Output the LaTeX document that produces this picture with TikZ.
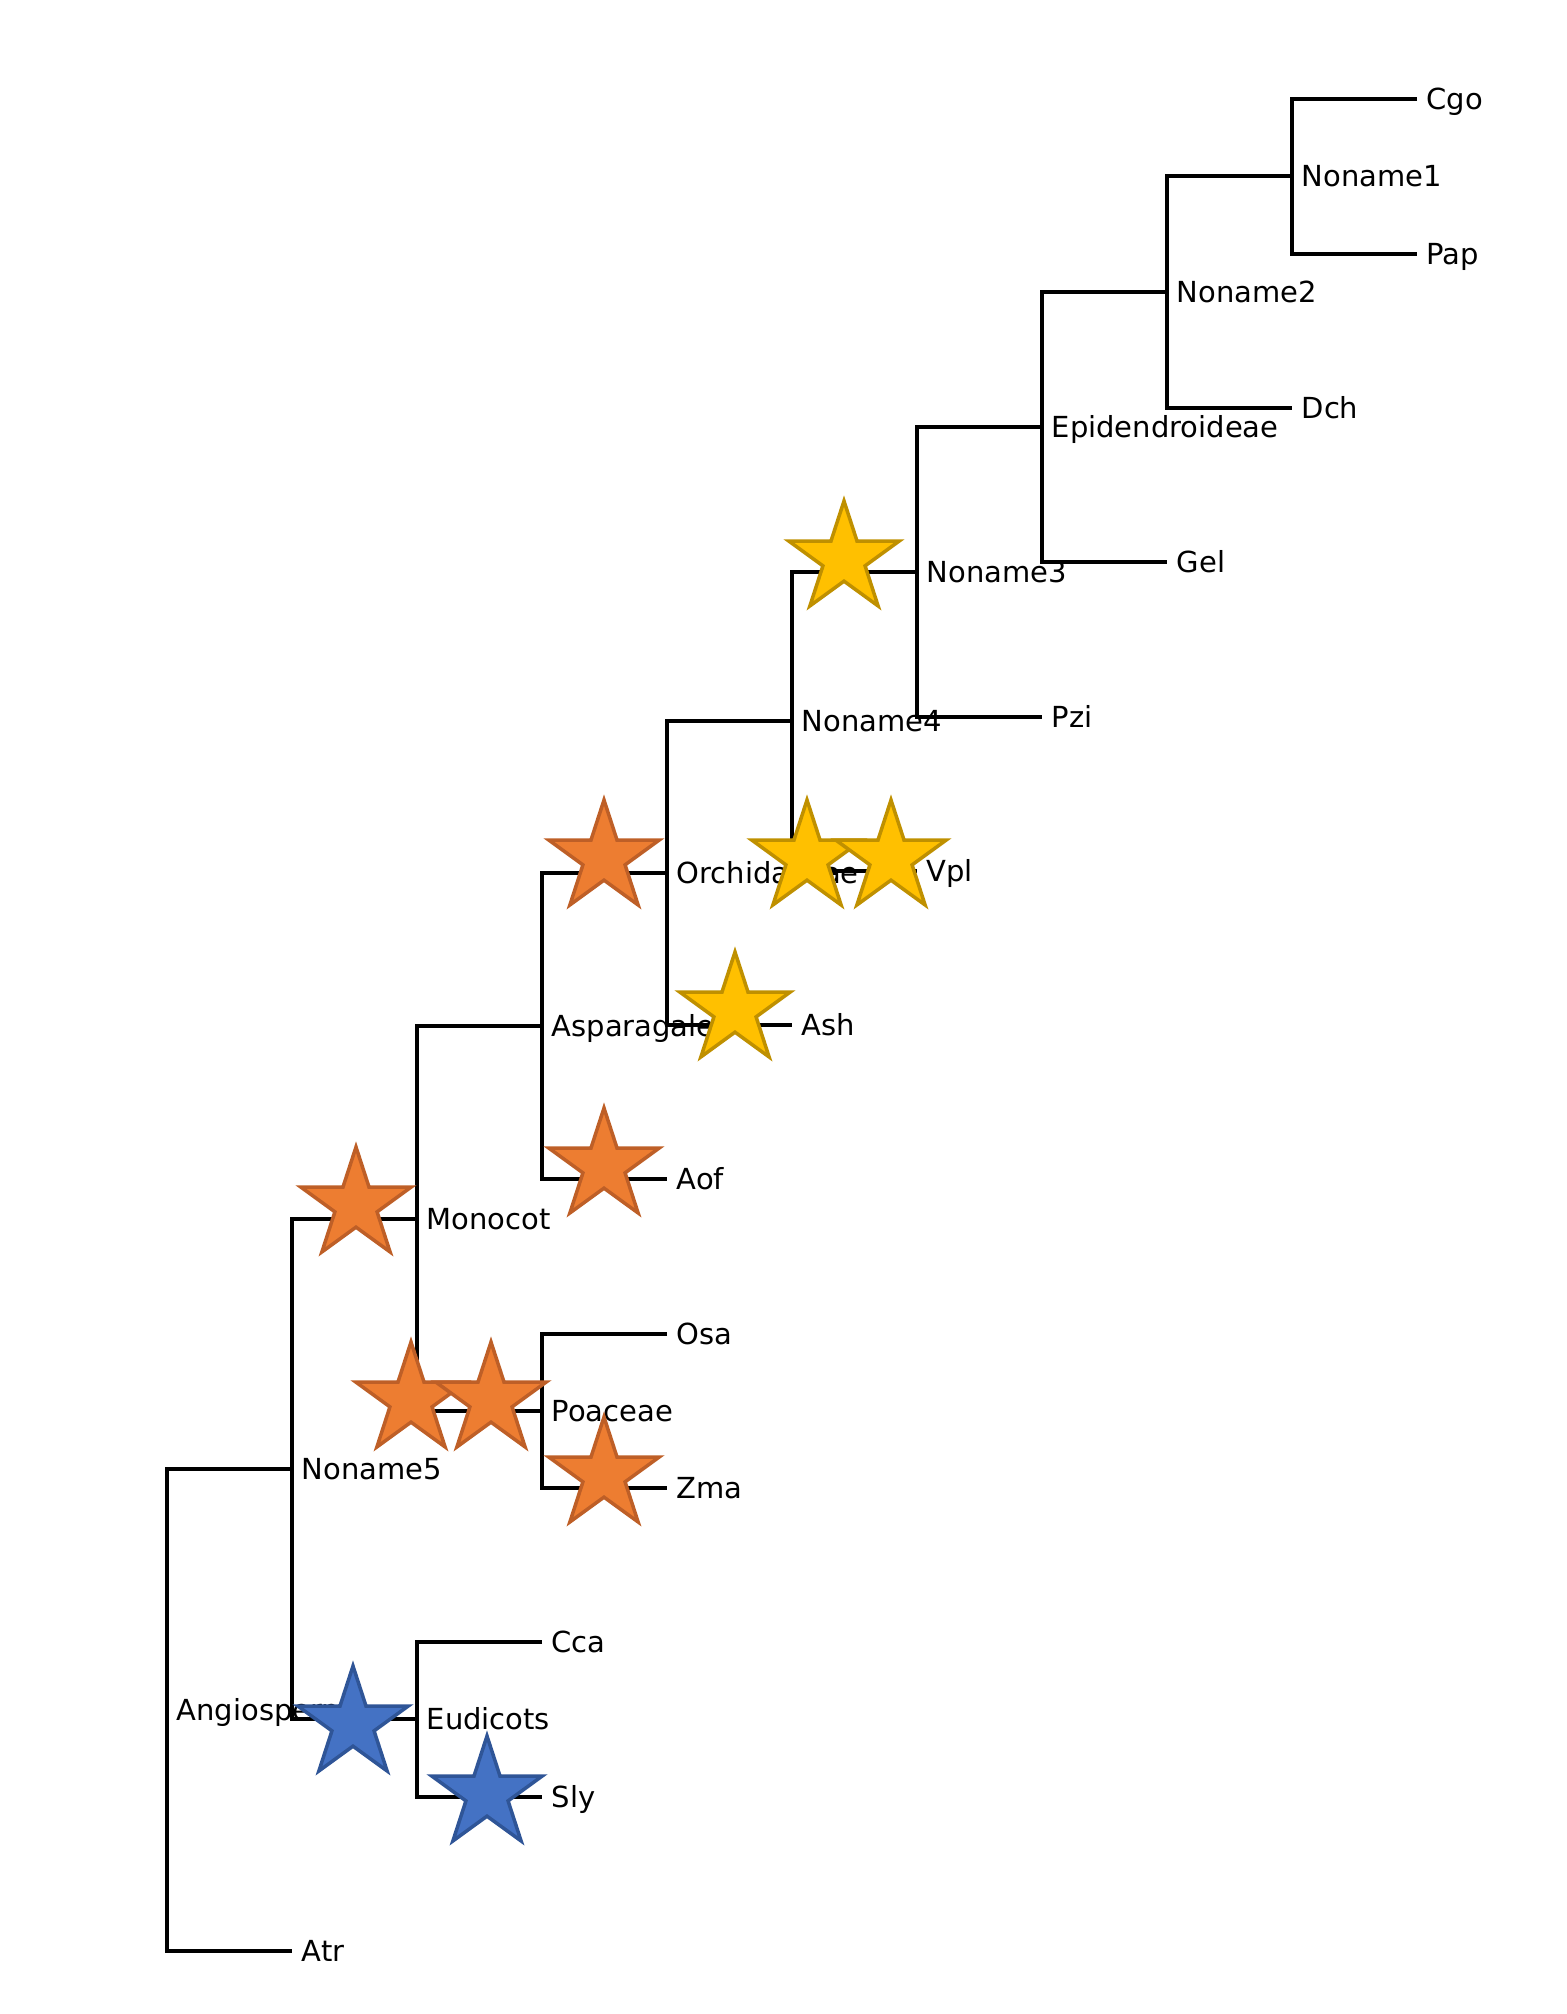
\documentclass[tikz,border=0pt]{standalone}
\usepackage{fontspec}
\setmainfont{DejaVu Sans}
\usetikzlibrary{shapes,positioning}

\definecolor{starorange}{HTML}{ED7D31}
\definecolor{starorangeline}{HTML}{BE5F27}
\definecolor{staryellow}{HTML}{FFC000}
\definecolor{staryellowline}{HTML}{BF9000}
\definecolor{starblue}{HTML}{4472C4}
\definecolor{starblueline}{HTML}{2F5597}

\begin{document}
\begin{tikzpicture}[
    branch/.style={draw=black, line width=0.04cm},
    taxon/.style={font=\fontsize{8.25}{9.9}\selectfont, text height=0.211cm, text depth=0cm, inner sep=0pt},
    event/.style={star, star points=5, star point ratio=2.618, minimum size=1.16cm, inner sep=0pt, line width=0.035cm},
    orangestar/.style={event, fill=starorange, draw=starorangeline},
    yellowstar/.style={event, fill=staryellow, draw=staryellowline},
    bluestar/.style={event, fill=starblue, draw=starblueline},
]

\useasboundingbox (0,0) rectangle (15.66,-20.14);

% Leaves
\coordinate (cgo) at (14.17, -0.99);
\coordinate (pap) at (14.17, -2.54);
\coordinate (dch) at (12.92, -4.08);
\coordinate (gel) at (11.67, -5.62);
\coordinate (pzi) at (10.42, -7.17);
\coordinate (vpl) at (9.17, -8.71);
\coordinate (ash) at (7.92, -10.25);
\coordinate (aof) at (6.67, -11.79);
\coordinate (osa) at (6.67, -13.34);
\coordinate (zma) at (6.67, -14.88);
\coordinate (cca) at (5.42, -16.42);
\coordinate (sly) at (5.42, -17.97);
\coordinate (atr) at (2.92, -19.51);

% Inner nodes
\coordinate (n1) at (12.92, -1.76);
\coordinate (n2) at (11.67, -2.92);
\coordinate (epi) at (10.42, -4.27);
\coordinate (n3) at (9.17, -5.72);
\coordinate (n4) at (7.92, -7.21);
\coordinate (orch) at (6.67, -8.73);
\coordinate (asp) at (5.42, -10.26);
\coordinate (poa) at (5.42, -14.11);
\coordinate (mono) at (4.17, -12.19);
\coordinate (eud) at (4.17, -17.19);
\coordinate (n5) at (2.92, -14.69);
\coordinate (ang) at (1.67, -17.10);

% Branches
\draw[branch] (cgo) -| (n1) |- (pap);
\draw[branch] (n1) -| (n2) |- (dch);
\draw[branch] (n2) -| (epi) |- (gel);
\draw[branch] (epi) -| (n3) |- (pzi);
\draw[branch] (n3) -| (n4) |- (vpl);
\draw[branch] (n4) -| (orch) |- (ash);
\draw[branch] (orch) -| (asp) |- (aof);
\draw[branch] (asp) -| (mono) |- (poa);
\draw[branch] (osa) -| (poa) |- (zma);
\draw[branch] (cca) -| (eud) |- (sly);
\draw[branch] (mono) -| (n5) |- (eud);
\draw[branch] (n5) -| (ang) |- (atr);

% Labels
\node[taxon, right=0.09cm of cgo] (cgo-l) {Cgo};
\node[taxon, right=0.09cm of pap] (pap-l) {Pap};
\node[taxon, right=0.09cm of dch] (dch-l) {Dch};
\node[taxon, right=0.09cm of gel] (gel-l) {Gel};
\node[taxon, right=0.09cm of pzi] (pzi-l) {Pzi};
\node[taxon, right=0.09cm of vpl] (vpl-l) {Vpl};
\node[taxon, right=0.09cm of ash] (ash-l) {Ash};
\node[taxon, right=0.09cm of aof] (aof-l) {Aof};
\node[taxon, right=0.09cm of osa] (osa-l) {Osa};
\node[taxon, right=0.09cm of zma] (zma-l) {Zma};
\node[taxon, right=0.09cm of cca] (cca-l) {Cca};
\node[taxon, right=0.09cm of sly] (sly-l) {Sly};
\node[taxon, right=0.09cm of atr] (atr-l) {Atr};
\node[taxon, right=0.09cm of n1] (n1-l) {Noname1};
\node[taxon, right=0.09cm of n2] (n2-l) {Noname2};
\node[taxon, right=0.09cm of epi] (epi-l) {Epidendroideae};
\node[taxon, right=0.09cm of n3] (n3-l) {Noname3};
\node[taxon, right=0.09cm of n4] (n4-l) {Noname4};
\node[taxon, right=0.09cm of orch] (orch-l) {Orchidaceae};
\node[taxon, right=0.09cm of asp] (asp-l) {Asparagales};
\node[taxon, right=0.09cm of poa] (poa-l) {Poaceae};
\node[taxon, right=0.09cm of mono] (mono-l) {Monocot};
\node[taxon, right=0.09cm of eud] (eud-l) {Eudicots};
\node[taxon, right=0.09cm of n5] (n5-l) {Noname5};
\node[taxon, right=0.09cm of ang] (ang-l) {Angiosperm};

% Stars
\node[yellowstar] (s-n3) at (8.44, -5.59) {};
\node[orangestar] (s-orch) at (6.04, -8.58) {};
\node[yellowstar] (s-vpl1) at (8.07, -8.58) {};
\node[yellowstar] (s-vpl2) at (8.91, -8.58) {};
\node[yellowstar] (s-ash) at (7.35, -10.10) {};
\node[orangestar] (s-aof) at (6.04, -11.66) {};
\node[orangestar] (s-mono) at (3.56, -12.05) {};
\node[orangestar] (s-poa1) at (4.11, -14.00) {};
\node[orangestar] (s-poa2) at (4.91, -14.00) {};
\node[orangestar] (s-zma) at (6.04, -14.75) {};
\node[bluestar] (s-eud) at (3.53, -17.24) {};
\node[bluestar] (s-sly) at (4.87, -17.94) {};

\end{tikzpicture}
\end{document}
